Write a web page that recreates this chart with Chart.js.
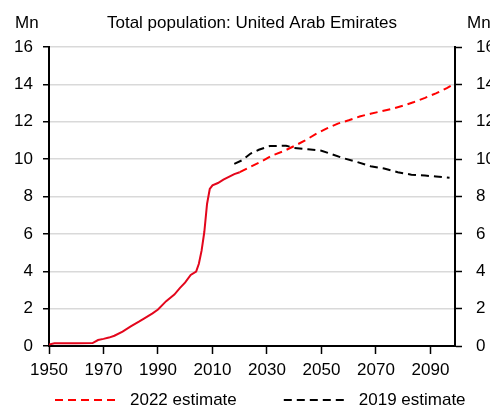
<!DOCTYPE html>
<html>
<head>
<meta charset="utf-8">
<script src="https://cdn.jsdelivr.net/npm/chart.js@4.4.1/dist/chart.umd.min.js"></script>
<style>
    html, body { margin: 0; padding: 0; background: #fff; overflow: hidden; }
    #wrap { width: 510px; height: 410px; }
</style>
</head>
<body>
<div id="wrap"><canvas id="popChart"></canvas></div>
<script>
FONT = '"Liberation Sans", Arial, sans-serif';
FSIZE = 17;

// history (solid red), 1950-2020
histYears = [1950, 1952, 1960, 1966, 1968, 1970, 1972, 1974, 1977, 1980, 1983, 1985, 1988, 1990, 1993,
    1996, 1998, 2000, 2002, 2004, 2005, 2006, 2007, 2008, 2009, 2010, 2012, 2014, 2016, 2018, 2020];
histValues = [0.08, 0.15, 0.15, 0.16, 0.32, 0.38, 0.45, 0.55, 0.77, 1.05, 1.3, 1.48, 1.75, 1.95, 2.4,
    2.75, 3.1, 3.4, 3.8, 3.98, 4.4, 5.1, 6.1, 7.6, 8.4, 8.6, 8.72, 8.9, 9.05, 9.2, 9.3];

// 2022 estimate (dashed red)
est22Years = [2020, 2024, 2028, 2032, 2036, 2040, 2044, 2048, 2052, 2056, 2060, 2064, 2068, 2072,
    2076, 2080, 2084, 2088, 2092, 2096, 2099];
est22Values = [9.3, 9.6, 9.88, 10.2, 10.42, 10.7, 11.0, 11.35, 11.65, 11.9, 12.08, 12.28, 12.43, 12.56,
    12.7, 12.86, 13.06, 13.28, 13.52, 13.8, 14.05];

// 2019 estimate (dashed black)
est19Years = [2018, 2021, 2024, 2027, 2031, 2037, 2040, 2045, 2050, 2054, 2058, 2063, 2068, 2073,
    2078, 2083, 2088, 2092, 2097];
est19Values = [9.75, 9.95, 10.3, 10.5, 10.7, 10.72, 10.6, 10.53, 10.45, 10.25, 10.05, 9.85, 9.62, 9.5,
    9.3, 9.17, 9.12, 9.07, 9.0];

xTicks = [1950, 1970, 1990, 2010, 2030, 2050, 2070, 2090];
legendNames = ['2022 estimate', '2019 estimate'];
legendColors = ['#ff0000', '#000000'];

function toPoints(xs, ys) {
    return xs.map((x, i) => ({ x: x, y: ys[i] }));
}

extraText = {
    id: 'extraText',
    afterDraw(chart) {
        const c = chart.ctx;
        const area = chart.chartArea;
        c.save();
        c.font = FSIZE + 'px ' + FONT;
        c.fillStyle = '#000';
        c.textBaseline = 'middle';
        // unit labels
        c.textAlign = 'left';
        c.fillText('Mn', 15, 23);
        c.fillText('Mn', 467, 23);
        // legend with dashed samples
        let x = area.left + 6;
        const y = 400;
        legendNames.forEach((name, i) => {
            c.strokeStyle = legendColors[i];
            c.lineWidth = 2;
            c.setLineDash([8, 5]);
            c.beginPath();
            c.moveTo(x, y);
            c.lineTo(x + 62, y);
            c.stroke();
            c.setLineDash([]);
            c.fillText(name, x + 75, y);
            x += 75 + c.measureText(name).width + 47;
        });
        c.restore();
    }
};

ctx = document.getElementById('popChart');

popChart = new Chart(ctx, {
    type: 'line',
    data: {
        datasets: [{
            label: 'History',
            data: toPoints(histYears, histValues),
            borderColor: '#e3061c',
            borderWidth: 2,
            pointRadius: 0,
            yAxisID: 'y'
        }, {
            label: legendNames[0],
            data: toPoints(est22Years, est22Values),
            borderColor: legendColors[0],
            borderWidth: 2,
            borderDash: [8, 5],
            pointRadius: 0,
            yAxisID: 'y'
        }, {
            label: legendNames[1],
            data: toPoints(est19Years, est19Values),
            borderColor: legendColors[1],
            borderWidth: 2,
            borderDash: [8, 5],
            pointRadius: 0,
            yAxisID: 'y'
        }]
    },
    options: {
        responsive: true,
        maintainAspectRatio: false,
        animation: false,
        layout: {
            padding: { left: 0, right: 0, top: 0, bottom: 30 }
        },
        scales: {
            x: {
                type: 'linear',
                min: 1950,
                max: 2099,
                afterBuildTicks: (axis) => {
                    axis.ticks = xTicks.map(v => ({ value: v }));
                },
                afterFit: (axis) => {
                    axis.height = 34;
                },
                ticks: {
                    autoSkip: false,
                    maxRotation: 0,
                    padding: 6,
                    color: '#000',
                    font: { family: FONT, size: FSIZE },
                    callback: (v) => String(v)
                },
                grid: {
                    drawOnChartArea: false,
                    tickLength: 8,
                    tickColor: '#000',
                    tickWidth: 1.5
                },
                border: { color: '#000', width: 2 }
            },
            y: {
                position: 'left',
                min: 0,
                max: 16,
                afterFit: (axis) => {
                    axis.width = 49;
                },
                ticks: {
                    stepSize: 2,
                    padding: 10,
                    color: '#000',
                    font: { family: FONT, size: FSIZE }
                },
                grid: {
                    color: '#d9d9d9',
                    lineWidth: 1.5,
                    tickLength: 6,
                    tickColor: '#000',
                    tickWidth: 1.5
                },
                border: { color: '#000', width: 2 }
            },
            y2: {
                position: 'right',
                min: 0,
                max: 16,
                afterFit: (axis) => {
                    axis.width = 55;
                },
                ticks: {
                    stepSize: 2,
                    padding: 14,
                    color: '#000',
                    font: { family: FONT, size: FSIZE }
                },
                grid: {
                    drawOnChartArea: false,
                    tickLength: 7,
                    tickColor: '#000',
                    tickWidth: 1.5
                },
                border: { color: '#000', width: 2 }
            }
        },
        plugins: {
            legend: { display: false },
            tooltip: { enabled: false },
            title: {
                display: true,
                fullSize: false,
                text: 'Total population: United Arab Emirates',
                color: '#000',
                font: { family: FONT, size: FSIZE, weight: 'normal', lineHeight: 1.2 },
                padding: { top: 13, bottom: 13.6 }
            }
        }
    },
    plugins: [extraText]
});
</script>
</body>
</html>
